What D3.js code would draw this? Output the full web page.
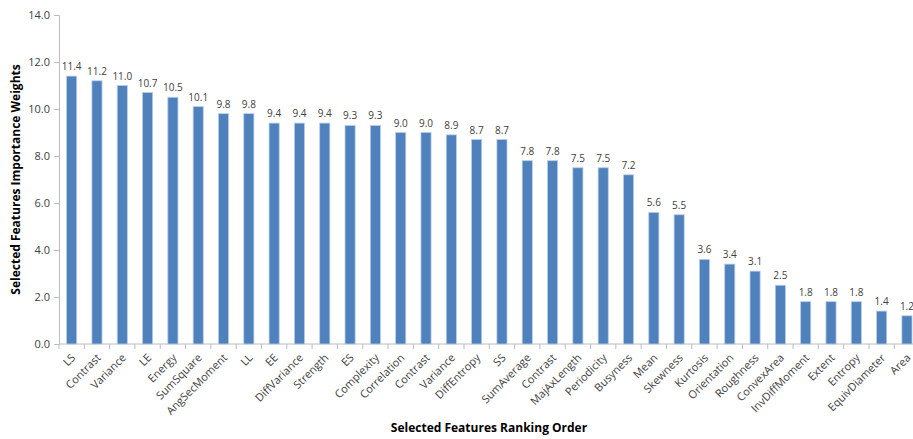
<!DOCTYPE html>
<html>
<head>
<meta charset="utf-8">
<script src="https://cdn.jsdelivr.net/npm/d3@7"></script>
<style>
  body { margin: 0; background: #fff; }
  text { font-family: "Open Sans", "Noto Sans", sans-serif; fill: #404040; }
</style>
</head>
<body>
<div id="chart"></div>
<script>
// feature names in ranking order
var features = ["LS", "Contrast", "Variance", "LE", "Energy", "SumSquare", "AngSecMoment", "LL", "EE",
    "DiffVariance", "Strength", "ES", "Complexity", "Correlation", "Contrast", "Variance", "DiffEntropy",
    "SS", "SumAverage", "Contrast", "MajAxLength", "Periodicity", "Busyness", "Mean", "Skewness",
    "Kurtosis", "Orientation", "Roughness", "ConvexArea", "InvDiffMoment", "Extent", "Entropy",
    "EquivDiameter", "Area"];
// importance weights
var weights = [11.4, 11.2, 11.0, 10.7, 10.5, 10.1, 9.8, 9.8, 9.4, 9.4, 9.4, 9.3, 9.3, 9.0, 9.0, 8.9, 8.7,
    8.7, 7.8, 7.8, 7.5, 7.5, 7.2, 5.6, 5.5, 3.6, 3.4, 3.1, 2.5, 1.8, 1.8, 1.8, 1.4, 1.2];
var yTicks = [0, 2, 4, 6, 8, 10, 12, 14];

var width = 913, height = 439;
var margin = {top: 15, left: 59, bottom: 95};
var plotRight = 919.6;

var data = features.map(function(f, i){ return {key: i, name: f, value: weights[i]}; });

var svg = d3.select("#chart").append("svg")
    .attr("width", width)
    .attr("height", height);

var x = d3.scaleBand()
    .domain(data.map(function(d){ return d.key; }))
    .range([margin.left, plotRight])
    .paddingInner(0.6)
    .paddingOuter(0.3);

var y = d3.scaleLinear()
    .domain([0, 14])
    .range([height - margin.bottom, margin.top]);

//y axis
var yAxis = svg.append("g")
    .attr("transform", "translate(" + margin.left + ",0)")
    .call(d3.axisLeft(y).tickValues(yTicks).tickSize(5).tickPadding(4)
        .tickFormat(d3.format(".1f")));
yAxis.selectAll("path, line").attr("stroke", "#bcbcbc");
yAxis.selectAll("text").style("font-size", "11px").style("fill", "#404040");

//x axis: ticks sit between categories
var xAxisG = svg.append("g")
    .attr("transform", "translate(0," + y(0) + ")");
xAxisG.append("line")
    .attr("x1", margin.left).attr("x2", plotRight)
    .attr("stroke", "#bcbcbc");
var step = x.step();
xAxisG.selectAll(".tk")
    .data(d3.range(data.length + 1))
    .enter().append("line")
    .attr("class", "tk")
    .attr("x1", function(i){ return margin.left + i * step; })
    .attr("x2", function(i){ return margin.left + i * step; })
    .attr("y1", 0).attr("y2", 5)
    .attr("stroke", "#bcbcbc");

xAxisG.selectAll(".lbl")
    .data(data)
    .enter().append("text")
    .attr("class", "lbl")
    .attr("text-anchor", "end")
    .attr("transform", function(d){
        return "translate(" + (x(d.key) + x.bandwidth() / 2 - 1) + ",9) rotate(-45)";
    })
    .attr("dy", "0.7em")
    .style("font-size", "11px")
    .text(function(d){ return d.name; });

//bars
svg.selectAll(".bar")
    .data(data)
    .enter().append("rect")
    .attr("class", "bar")
    .attr("x", function(d){ return x(d.key); })
    .attr("width", x.bandwidth())
    .attr("y", function(d){ return y(d.value); })
    .attr("height", function(d){ return y(0) - y(d.value); })
    .attr("fill", "#4f81bd")
    .attr("stroke", "#b9cde5")
    .attr("stroke-width", 0.8);

//value labels
svg.selectAll(".val")
    .data(data)
    .enter().append("text")
    .attr("class", "val")
    .attr("x", function(d){ return x(d.key) + x.bandwidth() / 2; })
    .attr("y", function(d){ return y(d.value) - 6; })
    .attr("text-anchor", "middle")
    .style("font-size", "10px")
    .text(function(d){ return d3.format(".1f")(d.value); });

//axis titles
svg.append("text")
    .attr("transform", "translate(20," + (y(7)) + ") rotate(-90)")
    .attr("text-anchor", "middle")
    .style("font-size", "12px")
    .style("font-weight", "bold")
    .style("fill", "#000")
    .text("Selected Features Importance Weights");

svg.append("text")
    .attr("x", 489)
    .attr("y", 432)
    .attr("text-anchor", "middle")
    .style("font-size", "12px")
    .style("font-weight", "bold")
    .style("fill", "#000")
    .text("Selected Features Ranking Order");
</script>
</body>
</html>
